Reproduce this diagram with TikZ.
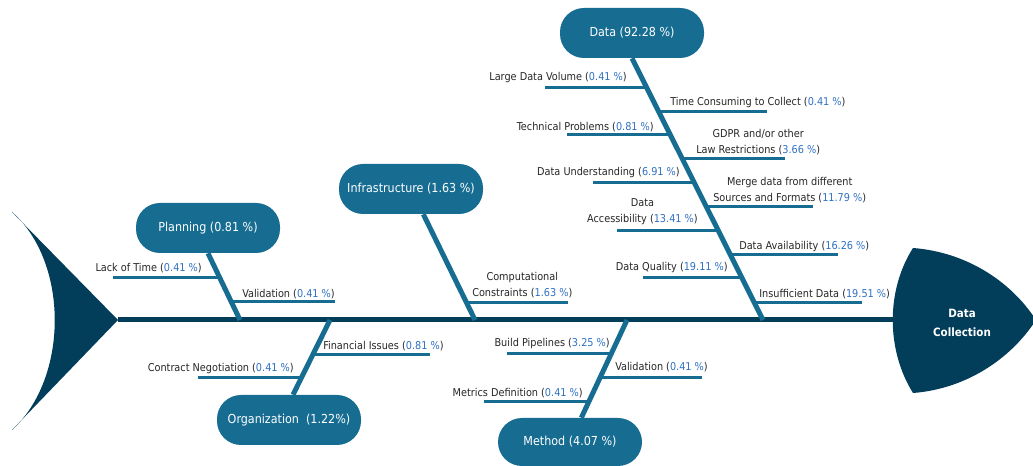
\documentclass[tikz,border=0pt]{standalone}
\usepackage{fontspec}
\setmainfont{DejaVu Sans Condensed}
\definecolor{fishdark}{RGB}{2,61,90}
\definecolor{fishblue}{RGB}{23,108,146}
\definecolor{pctblue}{RGB}{46,112,196}
\newcommand{\pct}[1]{(\textcolor{pctblue}{#1~\%})}

\begin{document}
\begin{tikzpicture}[x=0.75pt,y=-0.75pt,
        cause/.style={rectangle,rounded corners=18pt,fill=fishblue,text=white,
            minimum width=108pt,minimum height=37.5pt,font=\fontsize{9.3}{11}\selectfont},
        lbl/.style={inner sep=0pt,align=center,text=black!85,font=\fontsize{8.1}{12}\selectfont},
        spine/.style={draw=fishdark,line width=3.75pt},
        branch/.style={draw=fishblue,line width=3.75pt},
        twig/.style={draw=fishblue,line width=2.25pt}]
            \useasboundingbox (0,0) rectangle (1033,466);
            \coordinate (tail) at (118,320);
            \coordinate (head) at (900,320);
            \fill[fishdark] (12,212) -- (tail) -- (12,430) .. controls (69,378) and (69,262) .. cycle;
            \fill[fishdark] (913,248) .. controls (965,252) and (1010,280) .. (1036,320)
                .. controls (1010,360) and (965,389) .. (913,393)
                .. controls (886,350) and (886,290) .. cycle;
            \draw[spine] (tail) -- (head);
            \node[text=white,align=center,font=\bfseries\fontsize{8.6}{14}\selectfont] (effect) at (962,323) {Data\\Collection};

            \node[cause] (data) at (632,33) {Data (92.28 \%)};
            \node[cause] (infra) at (411,189) {Infrastructure (1.63 \%)};
            \node[cause] (plan) at (208,228) {Planning (0.81 \%)};
            \node[cause] (org) at (289,420) {Organization~~(1.22\%)};
            \node[cause,minimum height=36pt] (method) at (570,442) {Method (4.07 \%)};

            \coordinate (d0) at (763,320);
            \coordinate (i0) at (475,320);
            \coordinate (p0) at (240,320);
            \coordinate (o0) at (330,320);
            \coordinate (m0) at (627,320);
            \draw[branch] (data.south) -- (d0);
            \draw[branch] (infra) -- (i0);
            \draw[branch] (plan.south) -- (p0);
            \draw[branch] ([xshift=3pt]org.north) -- (o0);
            \draw[branch] (method) -- (m0);

            \coordinate (d1a) at (545,88);  \coordinate (d1b) at (647,88);
            \coordinate (d2a) at (659,112); \coordinate (d2b) at (767,112);
            \coordinate (d3a) at (567,135); \coordinate (d3b) at (670,135);
            \coordinate (d4a) at (682,159); \coordinate (d4b) at (785,159);
            \coordinate (d5a) at (593,183); \coordinate (d5b) at (694,183);
            \coordinate (d6a) at (706,207); \coordinate (d6b) at (813,207);
            \coordinate (d7a) at (617,231); \coordinate (d7b) at (718,231);
            \coordinate (d8a) at (730,255); \coordinate (d8b) at (838,255);
            \coordinate (d9a) at (643,278); \coordinate (d9b) at (742,278);
            \coordinate (d10a) at (754,303); \coordinate (d10b) at (862,303);
            \coordinate (i1a) at (467,303); \coordinate (i1b) at (568,303);
            \coordinate (p1a) at (113,278); \coordinate (p1b) at (220,278);
            \coordinate (p2a) at (231,302); \coordinate (p2b) at (335,302);
            \coordinate (o1a) at (313,355); \coordinate (o1b) at (430,355);
            \coordinate (o2a) at (198,378); \coordinate (o2b) at (301,378);
            \coordinate (m1a) at (507,354); \coordinate (m1b) at (611,354);
            \coordinate (m2a) at (600,378); \coordinate (m2b) at (702,378);
            \coordinate (m3a) at (484,402); \coordinate (m3b) at (588,402);
            \draw[twig] (d1a) -- (d1b);
            \draw[twig] (d2a) -- (d2b);
            \draw[twig] (d3a) -- (d3b);
            \draw[twig] (d4a) -- (d4b);
            \draw[twig] (d5a) -- (d5b);
            \draw[twig] (d6a) -- (d6b);
            \draw[twig] (d7a) -- (d7b);
            \draw[twig] (d8a) -- (d8b);
            \draw[twig] (d9a) -- (d9b);
            \draw[twig] (d10a) -- (d10b);
            \draw[twig] (i1a) -- (i1b);
            \draw[twig] (p1a) -- (p1b);
            \draw[twig] (p2a) -- (p2b);
            \draw[twig] (o1a) -- (o1b);
            \draw[twig] (o2a) -- (o2b);
            \draw[twig] (m1a) -- (m1b);
            \draw[twig] (m2a) -- (m2b);
            \draw[twig] (m3a) -- (m3b);

            \begin{scope}[every node/.style={lbl}]
                \node[anchor=east] (volume) at (627,78) {Large Data Volume \pct{0.41}};
                \node[anchor=west] (timecost) at (670,103) {Time Consuming to Collect \pct{0.41}};
                \node[anchor=east] (technical) at (654,127) {Technical Problems \pct{0.81}};
                \node[anchor=west] (gdpr) at (696,142) {GDPR and/or other\\Law Restrictions \pct{3.66}};
                \node[anchor=east] (understand) at (680,173) {Data Understanding \pct{6.91}};
                \node[anchor=west] (merge) at (713,190) {Merge data from different\\Sources and Formats \pct{11.79}};
                \node[anchor=east] (access) at (698,212) {Data\\Accessibility \pct{13.41}};
                \node[anchor=west] (avail) at (739,247) {Data Availability \pct{16.26}};
                \node[anchor=east] (quality) at (728,268) {Data Quality \pct{19.11}};
                \node[anchor=west] (insuff) at (759,294) {Insufficient Data \pct{19.51}};
                \node[anchor=west] (compute) at (472,285) {Computational\\Constraints \pct{1.63}};
                \node[anchor=east] (lacktime) at (202,268) {Lack of Time \pct{0.41}};
                \node[anchor=west] (planval) at (242,294) {Validation \pct{0.41}};
                \node[anchor=west] (finance) at (323,346) {Financial Issues \pct{0.81}};
                \node[anchor=east] (contract) at (294,369) {Contract Negotiation \pct{0.41}};
                \node[anchor=east] (pipeline) at (610,344) {Build Pipelines \pct{3.25}};
                \node[anchor=west] (methval) at (615,367) {Validation \pct{0.41}};
                \node[anchor=east] (metrics) at (583,393) {Metrics Definition \pct{0.41}};
            \end{scope}
        \end{tikzpicture}
\end{document}
